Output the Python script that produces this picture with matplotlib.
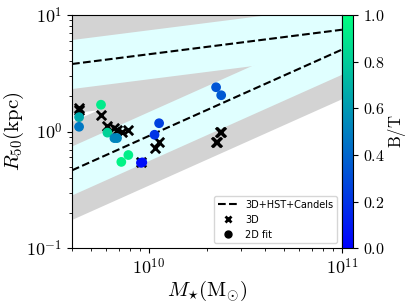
import numpy as np
import matplotlib
matplotlib.use('Agg')
from matplotlib import pyplot as plt
from matplotlib.ticker import FuncFormatter
from matplotlib.lines import Line2D

plt.rcParams['mathtext.fontset'] = 'cm'

# size-mass relations: log R at M = 5e10, slope, 1 and 2 sigma scatter (dex)
rel_logr0 = [0.81, 0.48]
rel_slope = [0.21, 0.74]
sig1, sig2 = 0.21, 0.42

# 3D measurements
mass_3d = [4.35e9, 4.35e9, 5.65e9, 6.10e9, 6.63e9, 6.84e9, 7.28e9, 7.83e9,
           9.16e9, 1.07e10, 1.13e10, 2.23e10, 2.26e10, 2.33e10, 2.36e10]
r_3d = [1.60, 1.52, 1.38, 1.12, 1.07, 1.03, 0.99, 1.03,
        0.55, 0.73, 0.82, 0.81, 0.82, 0.99, 1.00]

# 2D fits with bulge-to-total ratio
mass_2d = [5.65e9, 4.35e9, 4.35e9, 6.10e9, 6.63e9, 6.84e9, 7.83e9, 7.20e9,
           9.10e9, 9.25e9, 1.07e10, 1.13e10, 2.23e10, 2.37e10]
r_2d = [1.70, 1.33, 1.10, 0.98, 0.88, 0.88, 0.63, 0.55,
        0.54, 0.545, 0.94, 1.18, 2.40, 2.05]
bt_2d = [0.92, 0.66, 0.47, 0.82, 0.52, 0.52, 0.93, 0.95,
         0.05, 0.05, 0.20, 0.25, 0.33, 0.35]

fig = plt.figure(figsize=(4.07, 3.05), dpi=100)
ax = fig.add_axes([0.177, 0.186, 0.663, 0.765])
cax = fig.add_axes([0.840, 0.186, 0.027, 0.765])

xx = np.logspace(np.log10(4e9), 11, 100)
centres = [a + b * (np.log10(xx) - np.log10(5e10)) for a, b in zip(rel_logr0, rel_slope)]
for c in centres:
    ax.fill_between(xx, 10**(c - sig2), 10**(c + sig2), color='lightgray', lw=0, zorder=1)
for c in centres:
    ax.fill_between(xx, 10**(c - sig1), 10**(c + sig1), color='lightcyan', lw=0, zorder=2)
for c in centres:
    ax.plot(xx, 10**c, 'k--', lw=1.5, zorder=3)

ax.scatter(mass_3d, r_3d, marker='x', c='k', s=45, linewidths=2, zorder=4)
sc = ax.scatter(mass_2d, r_2d, c=bt_2d, cmap='winter', vmin=0, vmax=1, s=36, zorder=5)

ax.set_xscale('log')
ax.set_yscale('log')
ax.set_xlim(4e9, 1e11)
ax.set_ylim(0.1, 10)
fmt = FuncFormatter(lambda v, p: r'$10^{%d}$' % round(np.log10(v)))
ax.xaxis.set_major_formatter(fmt)
ax.yaxis.set_major_formatter(fmt)
ax.tick_params(axis='both', which='major', labelsize=13)
ax.set_xlabel(r'$M_{\star}(\mathrm{M_{\odot}})$', fontsize=15, labelpad=0)
ax.set_ylabel(r'$R_{50}(\mathrm{kpc})$', fontsize=15, labelpad=0)

handles = [Line2D([], [], color='k', ls='--', lw=1.5),
           Line2D([], [], color='k', marker='x', ls='', mew=2, ms=5),
           Line2D([], [], color='k', marker='o', ls='', ms=5)]
ax.legend(handles, ['3D+HST+Candels', '3D', '2D fit'], loc='lower right', fontsize=7)

cb = fig.colorbar(sc, cax=cax)
cb.set_ticks([0, 0.2, 0.4, 0.6, 0.8, 1.0])
cb.ax.yaxis.set_major_formatter(FuncFormatter(lambda v, p: r'$%.1f$' % v))
cb.ax.tick_params(labelsize=11.5)
cb.set_label(r'$\mathrm{B/T}$', fontsize=12, labelpad=1)

plt.savefig('out.png', dpi=100)
